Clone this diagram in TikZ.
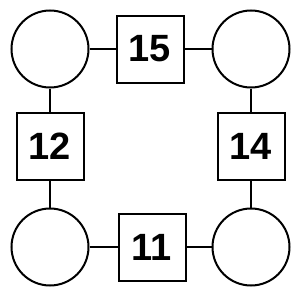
\documentclass[tikz,border=0pt]{standalone}
\usepackage{fontspec}
\setmainfont{Liberation Sans}
\begin{document}
\begin{tikzpicture}[x=1pt,y=-1pt,
  circ/.style={draw,line width=2pt,circle,minimum size=77pt,inner sep=0pt},
  sq/.style={draw,line width=2pt,rectangle,minimum size=67pt,inner sep=0pt,font=\fontsize{38}{42}\selectfont\bfseries},
  conn/.style={line width=2pt}]
\useasboundingbox (0,0) rectangle (300,300);
\node[circ] (tl) at (50,49) {};
\node[circ] (tr) at (251,49) {};
\node[circ] (bl) at (50,247) {};
\node[circ] (br) at (251,247) {};
\node[sq] (t) at (150,49) {15};
\node[sq] (l) at (50,146) {12};
\node[sq] (r) at (251,146) {14};
\node[sq] (b) at (152,247) {11};
\draw[conn] (tl) -- (t);
\draw[conn] (t) -- (tr);
\draw[conn] (tl) -- (l);
\draw[conn] (l) -- (bl);
\draw[conn] (tr) -- (r);
\draw[conn] (r) -- (br);
\draw[conn] (bl) -- (b);
\draw[conn] (b) -- (br);
\end{tikzpicture}
\end{document}
